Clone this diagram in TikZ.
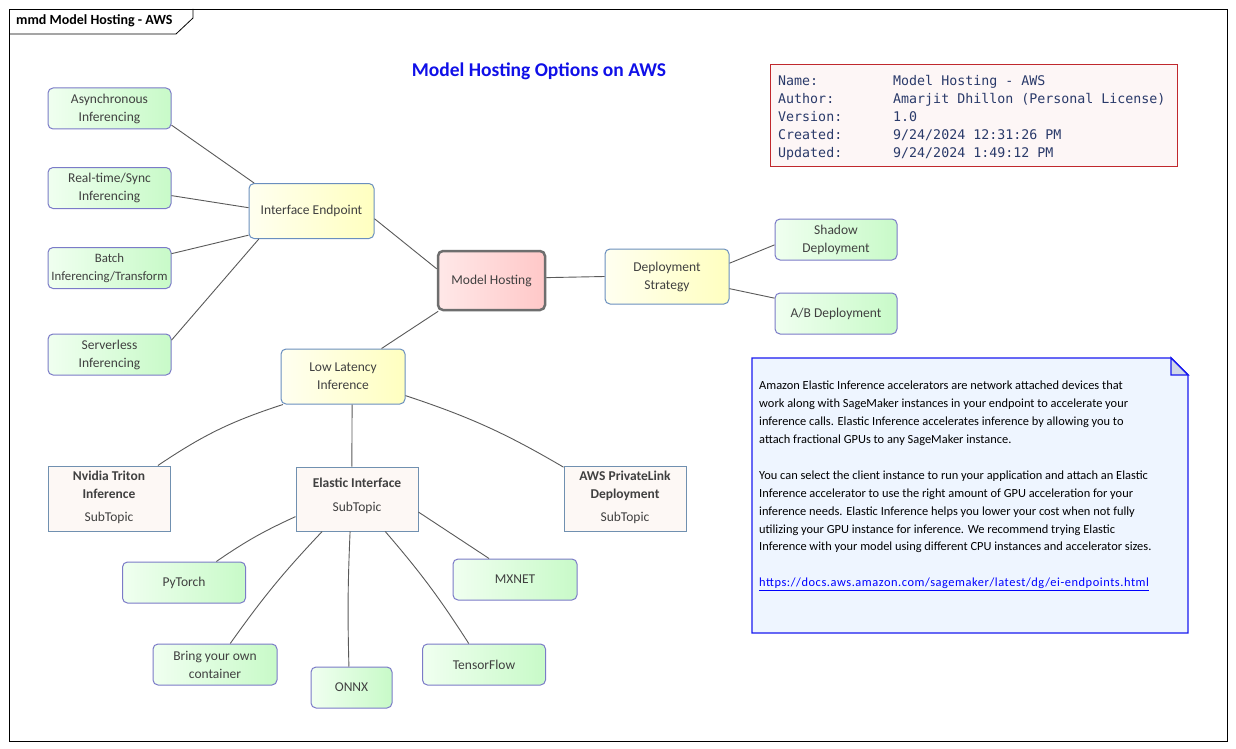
\documentclass[tikz,border=0pt]{standalone}
\usepackage{fontspec}
\setmainfont{Carlito}
\newfontfamily\infomono{DejaVu Sans Mono}

\definecolor{leafleft}{HTML}{F0FFF0}
\definecolor{leafright}{HTML}{C8FAC8}
\definecolor{leafborder}{HTML}{7B7BC8}
\definecolor{branchleft}{HTML}{FFFFF0}
\definecolor{branchright}{HTML}{FFFFC0}
\definecolor{branchborder}{HTML}{6A8FBF}
\definecolor{rootleft}{HTML}{FFE8E8}
\definecolor{rootright}{HTML}{FFC8C8}
\definecolor{rootborder}{HTML}{6E6E6E}
\definecolor{subfill}{HTML}{FDF8F5}
\definecolor{subborder}{HTML}{7090B0}
\definecolor{nodetext}{HTML}{404040}
\definecolor{linegray}{HTML}{5A5A5A}
\definecolor{infored}{HTML}{C0282D}
\definecolor{infofill}{HTML}{FDF6F6}
\definecolor{infotext}{HTML}{2A3A6A}
\definecolor{notefill}{HTML}{EEF5FF}
\definecolor{noteborder}{HTML}{1A1AF0}
\definecolor{foldfill}{HTML}{D0D8E8}
\definecolor{titleblue}{HTML}{1010E8}

\begin{document}
\begin{tikzpicture}[x=1pt,y=-1pt,
  topic/.style={draw=leafborder, line width=1pt, rounded corners=5pt,
    left color=leafleft, right color=leafright,
    minimum width=123pt, minimum height=41pt, inner sep=0pt,
    align=center, text=nodetext, font=\fontsize{13.5}{18}\selectfont},
  branch/.style={topic, draw=branchborder, left color=branchleft, right color=branchright,
    minimum width=124pt, minimum height=55pt},
  central/.style={topic, draw=rootborder, line width=2.5pt, left color=rootleft, right color=rootright,
    minimum width=107pt, minimum height=59pt},
  subtopic/.style={draw=subborder, line width=1pt, fill=subfill,
    minimum width=122pt, minimum height=64pt, inner sep=0pt,
    align=center, text=nodetext, font=\fontsize{13.5}{18}\selectfont},
  conn/.style={draw=linegray, line width=0.9pt}]

\useasboundingbox[fill=white] (0,0) rectangle (1236,749);

% diagram frame
\draw[line width=0.8pt] (9,9) rectangle (1227,741);
\draw[line width=0.8pt] (9,34) -- (176,34) -- (193,18) -- (193,9);
\node[anchor=west, inner sep=0pt, font=\fontsize{14}{16}\selectfont\bfseries] (framelabel) at (16,21) {mmd Model Hosting - AWS};

% title
\node[text=titleblue, font=\fontsize{19.5}{22}\selectfont\bfseries] (title) at (539,71) {Model Hosting Options on AWS};

% info box
\node[draw=infored, line width=1pt, fill=infofill, anchor=north west,
  minimum width=407pt, minimum height=102pt] (info) at (770,64) {};
\node[anchor=north west, inner sep=0pt, align=left,
  font=\infomono\fontsize{13.3}{18}\selectfont, text=infotext] (infotext) at (778,75)
  {\makebox[115pt][l]{Name:}Model Hosting - AWS\\
   \makebox[115pt][l]{Author:}Amarjit Dhillon (Personal License)\\
   \makebox[115pt][l]{Version:}1.0\\
   \makebox[115pt][l]{Created:}9/24/2024 12:31:26 PM\\
   \makebox[115pt][l]{Updated:}9/24/2024 1:49:12 PM};

% mind map nodes
\node[topic] (async) at (109.5,108.5) {Asynchronous\\Inferencing};
\node[topic] (realtime) at (109.5,188) {Real-time/Sync\\Inferencing};
\node[topic, font=\fontsize{12.8}{18}\selectfont] (batch) at (109.5,268) {Batch\\Inferencing/Transform};
\node[topic] (serverless) at (109.5,354.5) {Serverless\\Inferencing};
\node[branch, minimum width=125pt] (endpoint) at (311.5,211) {Interface Endpoint};
\node[central] (hosting) at (491.5,280.5) {Model Hosting};
\node[branch] (strategy) at (667,276.5) {Deployment\\Strategy};
\node[topic, minimum width=122pt] (shadow) at (836,239.5) {Shadow\\Deployment};
\node[topic, minimum width=122pt] (abtest) at (836,313.5) {A/B Deployment};
\node[branch] (latency) at (343,376.5) {Low Latency\\Inference};

\node[subtopic, minimum height=65pt] (triton) at (109,498.5)
  {\textbf{Nvidia Triton}\\\textbf{Inference}\\[5pt]SubTopic\\[-14pt]};
\node[subtopic] (elastic) at (357,499)
  {\textbf{Elastic Interface}\\[6pt]SubTopic\\[-10pt]};
\node[subtopic, minimum height=65pt] (privatelink) at (625,498.5)
  {\textbf{AWS PrivateLink}\\\textbf{Deployment}\\[5pt]SubTopic\\[-14pt]};

\node[topic] (pytorch) at (184,582.5) {PyTorch};
\node[topic, minimum width=124pt] (mxnet) at (515,579.5) {MXNET};
\node[topic, minimum width=124pt] (byoc) at (215,664.5) {Bring your own\\container};
\node[topic, minimum width=81pt] (onnx) at (351.5,687.5) {ONNX};
\node[topic] (tensorflow) at (484,664.5) {TensorFlow};

% connectors
\draw[conn] (async.-15) -- (endpoint.154);
\draw[conn] (realtime.-7) -- (endpoint.177);
\draw[conn] (batch.13) -- (endpoint.201);
\draw[conn] (serverless.13) -- (endpoint.208);
\draw[conn] (endpoint.-7) -- (hosting.168);
\draw[conn] (hosting.3) -- (strategy.west);
\draw[conn] (strategy.12) -- (shadow.185);
\draw[conn] (strategy.-11) -- (abtest.166);
\draw[conn] (hosting.210) -- (latency.36);
\draw[conn] (latency.205) to[bend right=8] (triton.34);
\draw[conn] (latency.-72) -- (elastic.99);
\draw[conn] (latency.-17) to[bend left=6] (privatelink.153);
\draw[conn] (elastic.196) to[bend right=5] (pytorch.33);
\draw[conn] (elastic.223) to[bend right=4] (byoc.54);
\draw[conn] (elastic.258) to[bend right=2] (onnx.97);
\draw[conn] (elastic.-49) to[bend left=4] (tensorflow.126);
\draw[conn] (elastic.-12) -- (mxnet.141);

% note
\draw[draw=noteborder, line width=1.4pt, fill=notefill]
  (752,358) -- (1171,358) -- (1188,375) -- (1188,633) -- (752,633) -- cycle;
\draw[draw=noteborder, line width=1.4pt, fill=foldfill]
  (1171,358) -- (1171,375) -- (1188,375) -- cycle;
\node[anchor=north west, align=left, inner sep=0pt, text=black,
  font=\fontsize{12.4}{17.9}\selectfont] (note) at (759,381)
  {Amazon Elastic Inference accelerators are network attached devices that\\
   work along with SageMaker instances in your endpoint to accelerate your\\
   inference calls. Elastic Inference accelerates inference by allowing you to\\
   attach fractional GPUs to any SageMaker instance.\\[17.9pt]
   You can select the client instance to run your application and attach an Elastic\\
   Inference accelerator to use the right amount of GPU acceleration for your\\
   inference needs. Elastic Inference helps you lower your cost when not fully\\
   utilizing your GPU instance for inference. We recommend trying Elastic\\
   Inference with your model using different CPU instances and accelerator sizes.\\[17.9pt]
   \textcolor{blue}{\addfontfeature{LetterSpace=4.5}\underline{https://docs.aws.amazon.com/sagemaker/latest/dg/ei-endpoints.html}}};
\end{tikzpicture}
\end{document}
